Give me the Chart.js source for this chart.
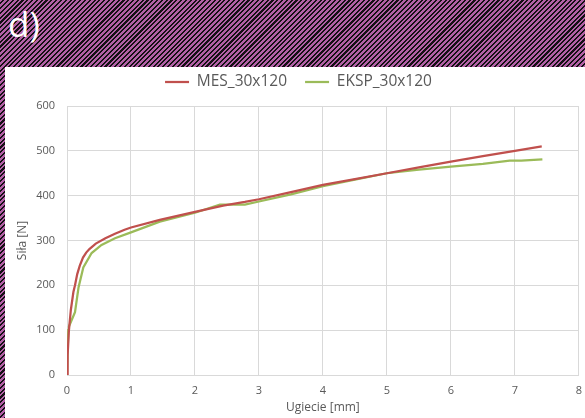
<!DOCTYPE html>
<html>
<head>
<meta charset="utf-8">
<script src="https://cdn.jsdelivr.net/npm/chart.js@4/dist/chart.umd.min.js"></script>
<style>
  html, body { margin: 0; padding: 0; }
  body {
    width: 585px; height: 418px; overflow: hidden; position: relative;
    background: repeating-linear-gradient(135deg, #b260a6 0px, #b260a6 1.9px, #141014 1.9px, #141014 3.4px);
  }
  #label {
    position: absolute; left: 8px; top: 0px;
    font-family: "Open Sans", sans-serif; font-size: 35px; line-height: 48px;
    color: #ffffff;
  }
  #panel {
    position: absolute; left: 5px; top: 67px; width: 580px; height: 351px; background: #ffffff;
  }
</style>
</head>
<body>
<div id="label">d)</div>
<div id="panel"><canvas id="chart" width="580" height="351"></canvas></div>
<script>
// Load–deflection curves: FEM model vs. experiment
const seriesNames = ["MES_30x120", "EKSP_30x120"];

const deflectionMes = [0, 0.01, 0.03, 0.06, 0.10, 0.125, 0.16, 0.20, 0.25, 0.30, 0.35, 0.45, 0.60, 0.75, 0.90, 1.00, 1.45, 2.00, 2.44, 2.78, 3.00, 3.50, 4.00, 4.50, 5.00, 5.50, 6.00, 6.50, 7.00, 7.42];
const forceMes      = [0, 45, 100, 145, 185, 200, 225, 244, 262, 273, 281, 293, 305, 315, 324, 329, 346, 364, 378, 386, 392, 408, 424, 437, 450, 463, 476, 488, 500, 510];

const deflectionEksp = [0, 0.02, 0.03, 0.08, 0.125, 0.18, 0.255, 0.385, 0.54, 0.75, 1.00, 1.45, 2.00, 2.39, 2.78, 3.00, 3.50, 4.00, 4.50, 5.00, 5.50, 6.00, 6.50, 6.92, 7.10, 7.43];
const forceEksp      = [0, 100, 108, 125, 140, 195, 240, 272, 290, 305, 318, 342, 362, 380, 380, 387, 403, 421, 436, 450, 458, 465, 471, 478, 478, 481];

const xTicks = [0, 1, 2, 3, 4, 5, 6, 7, 8];
const yTicks = [0, 100, 200, 300, 400, 500, 600];

const xTitle = "Ugiecie [mm]";
const yTitle = "Siła [N]";

const toPoints = (xs, ys) => xs.map((x, i) => ({ x: x, y: ys[i] }));

const textColor = "#595959";
const gridColor = "#d9d9d9";
const fontFamily = "'Open Sans', sans-serif";

// extra space between the legend row and the plot area
const legendGap = {
  id: "legendGap",
  afterInit(chart) {
    const lg = chart.legend;
    const fit = lg.fit.bind(lg);
    lg.fit = function () { fit(); this.height += 6.25; };
  }
};

new Chart(document.getElementById("chart"), {
  type: "scatter",
  data: {
    datasets: [
      {
        label: seriesNames[0],
        data: toPoints(deflectionMes, forceMes),
        showLine: true,
        borderColor: "#c0504d",
        backgroundColor: "#c0504d",
        borderWidth: 2.25,
        pointRadius: 0,
        tension: 0
      },
      {
        label: seriesNames[1],
        data: toPoints(deflectionEksp, forceEksp),
        showLine: true,
        borderColor: "#9bbb59",
        backgroundColor: "#9bbb59",
        borderWidth: 2.25,
        pointRadius: 0,
        tension: 0
      }
    ]
  },
  options: {
    responsive: false,
    animation: false,
    layout: { padding: { left: 7, right: 0, top: -10.75, bottom: 0 } },
    plugins: {
      tooltip: { enabled: false },
      legend: {
        position: "top",
        labels: {
          usePointStyle: true,
          pointStyle: "line",
          pointStyleWidth: 24,
          boxHeight: 2,
          padding: 18,
          color: textColor,
          font: { family: fontFamily, size: 15.5, lineHeight: 1 }
        }
      }
    },
    scales: {
      x: {
        type: "linear",
        min: xTicks[0],
        max: xTicks[xTicks.length - 1],
        afterBuildTicks(scale) { scale.ticks = xTicks.map(v => ({ value: v })); },
        afterFit(scale) { scale.height = 43; },
        grid: { color: gridColor, drawTicks: true, tickLength: 6, tickColor: "rgba(0,0,0,0)" },
        border: { color: gridColor },
        ticks: { color: textColor, padding: 3, font: { family: fontFamily, size: 11 } },
        title: {
          display: true, text: xTitle, color: textColor,
          padding: { top: 0, bottom: 3 },
          font: { family: fontFamily, size: 12 }
        }
      },
      y: {
        type: "linear",
        min: yTicks[0],
        max: yTicks[yTicks.length - 1],
        afterBuildTicks(scale) { scale.ticks = yTicks.map(v => ({ value: v })); },
        afterFit(scale) { scale.width = 55; },
        grid: { color: gridColor, drawTicks: false },
        border: { color: gridColor },
        ticks: { color: textColor, padding: 12, font: { family: fontFamily, size: 11 } },
        title: {
          display: true, text: yTitle, color: textColor,
          padding: { top: 3, bottom: 0 },
          font: { family: fontFamily, size: 12 }
        }
      }
    }
  },
  plugins: [legendGap]
});
</script>
</body>
</html>
